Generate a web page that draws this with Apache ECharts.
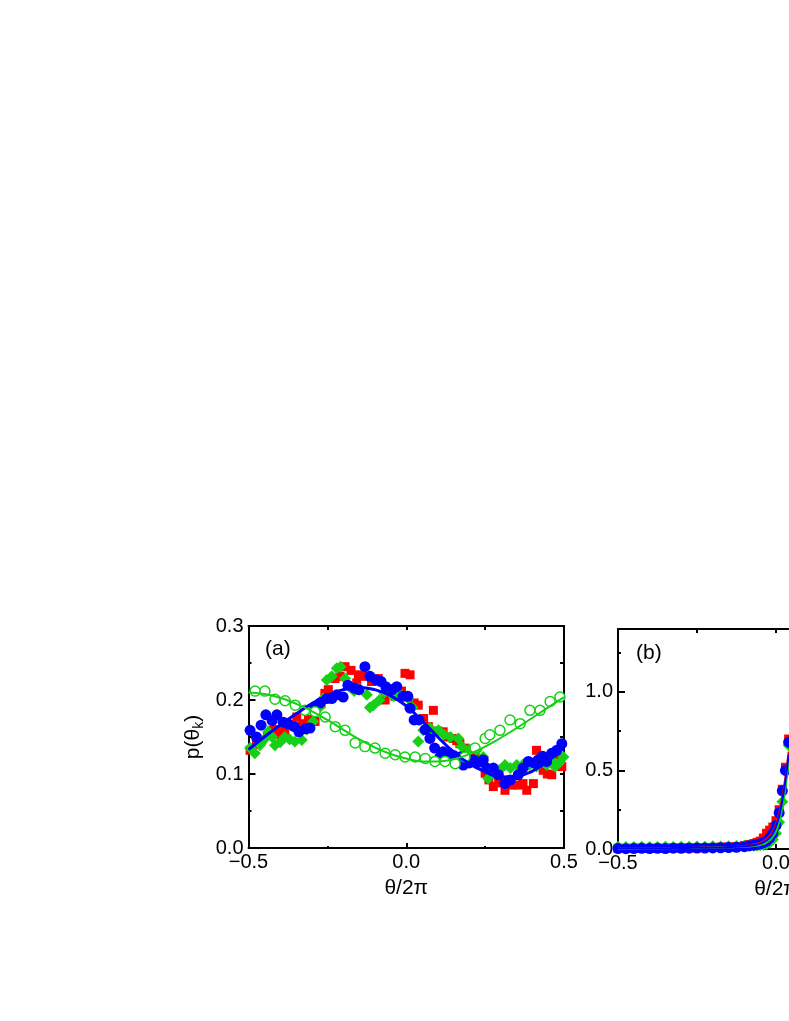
<!DOCTYPE html>
<html>
<head>
<meta charset="utf-8">
<script src="https://cdn.jsdelivr.net/npm/echarts@6/dist/echarts.min.js"></script>
<style>
  html, body { margin: 0; padding: 0; background: #fff; }
  #main { width: 789px; height: 1021px; }
</style>
</head>
<body>
<div id="main"></div>
<script>
  // panel (a): red squares
  const xRedA = [-0.495, -0.475, -0.458, -0.44, -0.426, -0.412, -0.4, -0.385, -0.374, -0.36, -0.347, -0.33, -0.31, -0.289, -0.27, -0.258, -0.247, -0.226, -0.21, -0.194, -0.175, -0.157, -0.152, -0.13, -0.11, -0.089, -0.067, -0.05, -0.036, -0.015, -0.004, 0.012, 0.025, 0.038, 0.055, 0.07, 0.086, 0.1, 0.117, 0.13, 0.149, 0.16, 0.17, 0.185, 0.202, 0.218, 0.234, 0.25, 0.262, 0.276, 0.293, 0.313, 0.334, 0.355, 0.37, 0.382, 0.403, 0.413, 0.434, 0.447, 0.461, 0.482, 0.493];
  const yRedA = [0.132, 0.14, 0.146, 0.152, 0.159, 0.16, 0.153, 0.158, 0.166, 0.165, 0.177, 0.168, 0.174, 0.171, 0.195, 0.209, 0.214, 0.229, 0.232, 0.245, 0.24, 0.223, 0.234, 0.232, 0.225, 0.229, 0.2, 0.215, 0.205, 0.212, 0.236, 0.234, 0.196, 0.193, 0.175, 0.164, 0.186, 0.158, 0.157, 0.15, 0.148, 0.145, 0.141, 0.135, 0.132, 0.124, 0.117, 0.101, 0.092, 0.083, 0.088, 0.078, 0.085, 0.085, 0.087, 0.078, 0.087, 0.132, 0.105, 0.1, 0.099, 0.123, 0.11];

  // panel (a): green diamonds
  const xGreenA = [-0.495, -0.48, -0.464, -0.45, -0.437, -0.425, -0.416, -0.4, -0.385, -0.37, -0.353, -0.331, -0.315, -0.295, -0.275, -0.263, -0.252, -0.236, -0.22, -0.208, -0.194, -0.18, -0.165, -0.15, -0.125, -0.115, -0.104, -0.085, -0.07, -0.057, -0.04, -0.02, 0.007, 0.02, 0.038, 0.054, 0.075, 0.102, 0.12, 0.14, 0.165, 0.176, 0.2, 0.223, 0.244, 0.26, 0.276, 0.295, 0.313, 0.33, 0.35, 0.37, 0.39, 0.413, 0.43, 0.445, 0.46, 0.471, 0.485, 0.498];
  const yGreenA = [0.135, 0.128, 0.139, 0.147, 0.157, 0.15, 0.139, 0.143, 0.15, 0.147, 0.144, 0.146, 0.16, 0.171, 0.19, 0.202, 0.227, 0.232, 0.243, 0.245, 0.229, 0.218, 0.212, 0.215, 0.207, 0.19, 0.193, 0.2, 0.21, 0.216, 0.205, 0.208, 0.202, 0.19, 0.144, 0.159, 0.162, 0.159, 0.153, 0.15, 0.148, 0.137, 0.133, 0.132, 0.123, 0.094, 0.101, 0.105, 0.112, 0.108, 0.112, 0.113, 0.112, 0.11, 0.118, 0.112, 0.12, 0.11, 0.115, 0.123];

  // panel (a): blue circles
  const xBlueA = [-0.495, -0.475, -0.46, -0.445, -0.425, -0.41, -0.39, -0.375, -0.355, -0.34, -0.32, -0.305, -0.29, -0.273, -0.252, -0.236, -0.22, -0.2, -0.185, -0.165, -0.15, -0.131, -0.115, -0.095, -0.08, -0.065, -0.045, -0.03, -0.01, 0.005, 0.012, 0.025, 0.04, 0.06, 0.075, 0.09, 0.107, 0.117, 0.135, 0.15, 0.17, 0.181, 0.2, 0.213, 0.23, 0.244, 0.255, 0.276, 0.292, 0.313, 0.33, 0.355, 0.37, 0.387, 0.405, 0.418, 0.432, 0.445, 0.461, 0.477, 0.493];
  const yBlueA = [0.159, 0.15, 0.166, 0.18, 0.172, 0.18, 0.17, 0.168, 0.164, 0.157, 0.161, 0.162, 0.191, 0.196, 0.202, 0.202, 0.207, 0.204, 0.22, 0.216, 0.214, 0.245, 0.232, 0.227, 0.225, 0.218, 0.214, 0.218, 0.205, 0.205, 0.189, 0.173, 0.173, 0.16, 0.148, 0.135, 0.123, 0.13, 0.128, 0.125, 0.123, 0.112, 0.115, 0.119, 0.116, 0.119, 0.108, 0.108, 0.099, 0.087, 0.092, 0.099, 0.108, 0.117, 0.115, 0.119, 0.124, 0.117, 0.128, 0.132, 0.141];

  // panel (a): open green circles
  const xOpenA = [-0.479, -0.448, -0.416, -0.384, -0.352, -0.321, -0.289, -0.257, -0.225, -0.194, -0.162, -0.131, -0.099, -0.067, -0.035, -0.004, 0.028, 0.06, 0.091, 0.123, 0.155, 0.186, 0.218, 0.25, 0.265, 0.297, 0.329, 0.361, 0.392, 0.424, 0.456, 0.487];
  const yOpenA = [0.212, 0.212, 0.201, 0.199, 0.193, 0.186, 0.184, 0.177, 0.164, 0.159, 0.142, 0.137, 0.135, 0.128, 0.126, 0.123, 0.123, 0.121, 0.117, 0.117, 0.114, 0.123, 0.135, 0.148, 0.153, 0.159, 0.173, 0.168, 0.186, 0.186, 0.198, 0.204];

  // panel (a): fitted curves
  const xFitA = [-0.5, -0.45, -0.4, -0.35, -0.3, -0.25, -0.2, -0.15, -0.1, -0.05, 0, 0.05, 0.1, 0.15, 0.2, 0.25, 0.3, 0.35, 0.4, 0.45, 0.5];
  const yFitBlueA = [0.133, 0.15, 0.166, 0.181, 0.195, 0.206, 0.214, 0.217, 0.214, 0.206, 0.192, 0.172, 0.15, 0.13, 0.114, 0.103, 0.096, 0.097, 0.104, 0.118, 0.135];
  const yFitOpenA = [0.21, 0.208, 0.203, 0.195, 0.185, 0.173, 0.16, 0.147, 0.136, 0.127, 0.121, 0.117, 0.117, 0.12, 0.127, 0.137, 0.149, 0.162, 0.176, 0.19, 0.204];

  // panel (b)
  const xB = [-0.5, -0.475, -0.45, -0.425, -0.4, -0.375, -0.35, -0.325, -0.3, -0.275, -0.25, -0.225, -0.2, -0.175, -0.15, -0.125, -0.1, -0.085, -0.07, -0.06, -0.05, -0.04, -0.03, -0.02, -0.01, 0, 0.01, 0.02, 0.03, 0.04];
  const yRedB = [0.005, 0.004, 0.006, 0.005, 0.004, 0.006, 0.005, 0.007, 0.006, 0.008, 0.007, 0.009, 0.01, 0.012, 0.014, 0.016, 0.022, 0.028, 0.035, 0.042, 0.05, 0.07, 0.1, 0.12, 0.14, 0.18, 0.25, 0.38, 0.52, 0.7];
  const yGreenB = [0.014, 0.012, 0.013, 0.014, 0.012, 0.013, 0.014, 0.012, 0.015, 0.014, 0.016, 0.015, 0.017, 0.016, 0.018, 0.019, 0.02, 0.02, 0.021, 0.022, 0.024, 0.026, 0.03, 0.04, 0.06, 0.1, 0.17, 0.3, 0.5, 0.66];
  const yBlueB = [0.003, 0.002, 0.003, 0.004, 0.003, 0.004, 0.003, 0.005, 0.004, 0.005, 0.006, 0.006, 0.007, 0.008, 0.009, 0.011, 0.015, 0.02, 0.024, 0.028, 0.033, 0.04, 0.05, 0.07, 0.1, 0.15, 0.23, 0.37, 0.5, 0.68];
  const yFitRedB = [0.004, 0.004, 0.004, 0.005, 0.005, 0.005, 0.006, 0.006, 0.007, 0.007, 0.008, 0.009, 0.01, 0.011, 0.013, 0.015, 0.019, 0.023, 0.028, 0.033, 0.04, 0.05, 0.065, 0.085, 0.115, 0.16, 0.23, 0.33, 0.46, 0.62];
  const yFitGreenB = [0.003, 0.003, 0.003, 0.004, 0.004, 0.004, 0.005, 0.005, 0.006, 0.006, 0.007, 0.008, 0.009, 0.01, 0.011, 0.012, 0.014, 0.016, 0.019, 0.022, 0.026, 0.032, 0.041, 0.055, 0.078, 0.11, 0.17, 0.26, 0.39, 0.55];
  const yFitBlueB = [0.004, 0.004, 0.004, 0.004, 0.005, 0.005, 0.005, 0.006, 0.006, 0.007, 0.008, 0.008, 0.009, 0.01, 0.012, 0.014, 0.017, 0.02, 0.024, 0.028, 0.034, 0.042, 0.055, 0.073, 0.1, 0.145, 0.21, 0.31, 0.44, 0.6];

  const RED = '#ff0000';
  const GREEN = '#16d016';
  const BLUE = '#0000ff';
  const FONT = 'Liberation Sans';

  const pairs = (xs, ys) => xs.map((x, i) => [x, ys[i]]);

  const fmtX = (v) => {
    if (Math.abs(v) < 1e-9) return '0.0';
    return (v < 0 ? '−' : '') + Math.abs(v).toFixed(1);
  };

  const axisLine = { show: true, onZero: false, lineStyle: { color: '#000', width: 2 } };

  const makeX = (gridIndex, bottom) => ({
    gridIndex,
    type: 'value',
    position: bottom ? 'bottom' : 'top',
    min: -0.5,
    max: 0.5,
    interval: 0.5,
    axisLine,
    axisTick: { show: true, inside: true, length: bottom ? 5 : 4, lineStyle: { color: '#000', width: 2 } },
    minorTick: { show: true, splitNumber: 2, length: bottom ? 2 : 4, lineStyle: { color: '#000', width: 2 } },
    splitLine: { show: false },
    axisLabel: bottom
      ? { show: true, margin: 4, fontSize: 20, color: '#000', fontFamily: FONT, formatter: fmtX }
      : { show: false },
    name: bottom ? 'θ/2π' : '',
    nameLocation: 'middle',
    nameGap: 30,
    nameTextStyle: { fontSize: 21, color: '#000', fontFamily: FONT },
  });

  const makeY = (gridIndex, left, max, interval) => ({
    gridIndex,
    type: 'value',
    position: left ? 'left' : 'right',
    min: 0,
    max,
    interval,
    axisLine,
    axisTick: { show: true, inside: true, length: left ? 7 : 4, lineStyle: { color: '#000', width: 2 } },
    minorTick: { show: true, splitNumber: 2, length: left ? 3 : 4, lineStyle: { color: '#000', width: 2 } },
    splitLine: { show: false },
    axisLabel: left
      ? {
          show: true, margin: 5, fontSize: 20, color: '#000', fontFamily: FONT,
          showMaxLabel: max === 0.3,
          formatter: (v) => v.toFixed(1),
        }
      : { show: false },
  });

  const yA = makeY(0, true, 0.3, 0.1);
  yA.name = 'p(θ{k|k})';
  yA.nameLocation = 'middle';
  yA.nameGap = 42;
  yA.nameTextStyle = {
    fontSize: 21, color: '#000', fontFamily: FONT,
    rich: { k: { fontSize: 14, fontFamily: FONT, color: '#000', padding: [12, 0, 0, 0] } },
  };

  const scatter = (name, xi, yi, data, opts) => Object.assign({
    name, type: 'scatter', xAxisIndex: xi, yAxisIndex: yi, data, silent: true,
  }, opts);

  const line = (name, xi, yi, data, color, width) => ({
    name, type: 'line', xAxisIndex: xi, yAxisIndex: yi, data, smooth: true,
    showSymbol: false, silent: true, lineStyle: { color, width }, z: 3,
  });

  const redSq = { symbol: 'rect', symbolSize: 9, itemStyle: { color: RED, opacity: 1 } };
  const greenDia = { symbol: 'diamond', symbolSize: [12, 12], itemStyle: { color: GREEN, opacity: 1 } };
  const blueCirc = { symbol: 'circle', symbolSize: 11, itemStyle: { color: BLUE, opacity: 1 } };

  const option = {
    backgroundColor: '#fff',
    animation: false,
    grid: [
      { left: 248.5, top: 626, width: 315.5, height: 222, outerBoundsMode: 'none', containLabel: false },
      { left: 618, top: 629, width: 316, height: 220, outerBoundsMode: 'none', containLabel: false },
    ],
    xAxis: [makeX(0, true), makeX(0, false), makeX(1, true), makeX(1, false)],
    yAxis: [yA, makeY(0, false, 0.3, 0.1), makeY(1, true, 1.4, 0.5), makeY(1, false, 1.4, 0.5)],
    graphic: [
      { type: 'text', left: 265, top: 639, style: { text: '(a)', fontSize: 21, fill: '#000', fontFamily: FONT } },
      { type: 'text', left: 636, top: 643, style: { text: '(b)', fontSize: 21, fill: '#000', fontFamily: FONT } },
    ],
    series: [
      scatter('red a', 0, 0, pairs(xRedA, yRedA), redSq),
      scatter('green a', 0, 0, pairs(xGreenA, yGreenA), greenDia),
      scatter('blue a', 0, 0, pairs(xBlueA, yBlueA), blueCirc),
      scatter('open a', 0, 0, pairs(xOpenA, yOpenA), {
        symbol: 'circle', symbolSize: 10,
        itemStyle: { color: '#fff', borderColor: GREEN, borderWidth: 1.5, opacity: 1 },
      }),
      line('fit blue a', 0, 0, pairs(xFitA, yFitBlueA), BLUE, 3),
      line('fit open a', 0, 0, pairs(xFitA, yFitOpenA), GREEN, 2),

      scatter('red b', 2, 2, pairs(xB, yRedB), redSq),
      scatter('green b', 2, 2, pairs(xB, yGreenB), greenDia),
      scatter('blue b', 2, 2, pairs(xB, yBlueB), blueCirc),
      line('fit red b', 2, 2, pairs(xB, yFitRedB), RED, 2),
      line('fit green b', 2, 2, pairs(xB, yFitGreenB), GREEN, 2),
      line('fit blue b', 2, 2, pairs(xB, yFitBlueB), BLUE, 2),
    ],
  };

  const myChart = echarts.init(document.getElementById('main'), null, { renderer: 'canvas' });
  myChart.setOption(option);
</script>
</body>
</html>
